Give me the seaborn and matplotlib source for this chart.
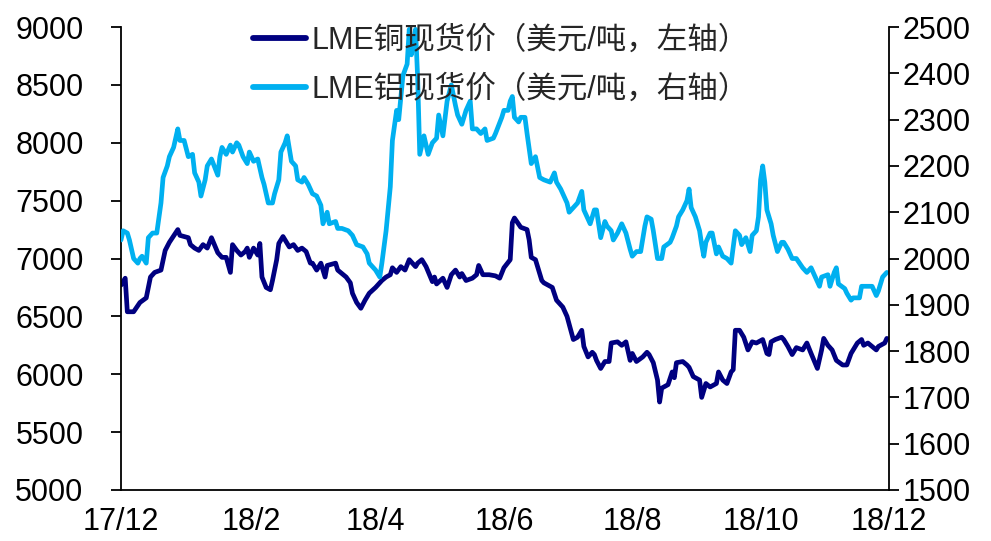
import matplotlib
matplotlib.use("Agg")
import matplotlib.pyplot as plt
import matplotlib.ticker as mticker
import pandas as pd
import seaborn as sns

# LME copper spot price, USD/t (left axis)
cu_dates = [
    "2017-12-01", "2017-12-03", "2017-12-04", "2017-12-07", "2017-12-10", "2017-12-13", "2017-12-15",
    "2017-12-17", "2017-12-20", "2017-12-22", "2017-12-24", "2017-12-28", "2017-12-29", "2018-01-02",
    "2018-01-03", "2018-01-05", "2018-01-07", "2018-01-09", "2018-01-11", "2018-01-13", "2018-01-16",
    "2018-01-18", "2018-01-20", "2018-01-22", "2018-01-23", "2018-01-25", "2018-01-27", "2018-01-29",
    "2018-01-30", "2018-01-31", "2018-02-02", "2018-02-04", "2018-02-05", "2018-02-06", "2018-02-08",
    "2018-02-10", "2018-02-11", "2018-02-13", "2018-02-14", "2018-02-16", "2018-02-18", "2018-02-19",
    "2018-02-21", "2018-02-23", "2018-02-25", "2018-02-27", "2018-03-01", "2018-03-02", "2018-03-04",
    "2018-03-06", "2018-03-08", "2018-03-09", "2018-03-13", "2018-03-14", "2018-03-16", "2018-03-18",
    "2018-03-20", "2018-03-21", "2018-03-23", "2018-03-25", "2018-03-27", "2018-03-29", "2018-04-01",
    "2018-04-03", "2018-04-04", "2018-04-06", "2018-04-08", "2018-04-09", "2018-04-11", "2018-04-13",
    "2018-04-15", "2018-04-17", "2018-04-20", "2018-04-21", "2018-04-23", "2018-04-25", "2018-04-28",
    "2018-04-29", "2018-04-30", "2018-05-03", "2018-05-05", "2018-05-07", "2018-05-09", "2018-05-11",
    "2018-05-12", "2018-05-14", "2018-05-17", "2018-05-19", "2018-05-20", "2018-05-22", "2018-05-25",
    "2018-05-28", "2018-05-30", "2018-06-01", "2018-06-04", "2018-06-05", "2018-06-06", "2018-06-09",
    "2018-06-12", "2018-06-13", "2018-06-14", "2018-06-16", "2018-06-19", "2018-06-20", "2018-06-24",
    "2018-06-26", "2018-06-29", "2018-07-01", "2018-07-04", "2018-07-06", "2018-07-08", "2018-07-09",
    "2018-07-11", "2018-07-13", "2018-07-14", "2018-07-15", "2018-07-17", "2018-07-19", "2018-07-21",
    "2018-07-22", "2018-07-25", "2018-07-27", "2018-07-29", "2018-07-31", "2018-08-01", "2018-08-03",
    "2018-08-06", "2018-08-08", "2018-08-09", "2018-08-11", "2018-08-13", "2018-08-14", "2018-08-15",
    "2018-08-18", "2018-08-20", "2018-08-21", "2018-08-22", "2018-08-25", "2018-08-27", "2018-08-28",
    "2018-08-30", "2018-09-02", "2018-09-03", "2018-09-05", "2018-09-07", "2018-09-10", "2018-09-11",
    "2018-09-13", "2018-09-15", "2018-09-17", "2018-09-18", "2018-09-19", "2018-09-21", "2018-09-23",
    "2018-09-25", "2018-09-27", "2018-09-29", "2018-10-02", "2018-10-04", "2018-10-05", "2018-10-06",
    "2018-10-08", "2018-10-11", "2018-10-12", "2018-10-14", "2018-10-16", "2018-10-18", "2018-10-21",
    "2018-10-23", "2018-10-25", "2018-10-28", "2018-10-30", "2018-10-31", "2018-11-02", "2018-11-04",
    "2018-11-06", "2018-11-09", "2018-11-11", "2018-11-13", "2018-11-16", "2018-11-18", "2018-11-19",
    "2018-11-21", "2018-11-23", "2018-11-25", "2018-11-26", "2018-11-29", "2018-11-30",
]
cu_prices = [
    6770, 6830, 6540, 6540, 6620, 6660, 6840,
    6880, 6900, 7070, 7140, 7250, 7200, 7180,
    7120, 7090, 7070, 7120, 7090, 7180, 7050,
    7010, 7010, 6880, 7120, 7070, 7030, 7060,
    7090, 7010, 7090, 7030, 7130, 6840, 6750,
    6730, 6810, 6990, 7130, 7190, 7130, 7100,
    7120, 7070, 7090, 7060, 6960, 6960, 6900,
    6960, 6840, 6940, 6960, 6900, 6870, 6840,
    6790, 6700, 6620, 6570, 6640, 6700, 6750,
    6790, 6810, 6840, 6860, 6920, 6880, 6930,
    6900, 6990, 6930, 6960, 6990, 6930, 6800,
    6840, 6780, 6830, 6750, 6860, 6900, 6840,
    6870, 6810, 6830, 6860, 6940, 6860, 6860,
    6850, 6830, 6920, 6990, 7310, 7350, 7270,
    7250, 7160, 7010, 6990, 6810, 6790, 6750,
    6640, 6580, 6500, 6300, 6320, 6380, 6240,
    6150, 6190, 6170, 6120, 6050, 6110, 6110,
    6270, 6280, 6250, 6280, 6120, 6180, 6110,
    6150, 6190, 6170, 6100, 5950, 5760, 5880,
    5910, 6020, 5970, 6100, 6110, 6080, 6060,
    5980, 5950, 5800, 5920, 5890, 5920, 6020,
    5950, 5920, 6020, 6040, 6380, 6380, 6320,
    6210, 6280, 6270, 6300, 6180, 6170, 6280,
    6300, 6320, 6300, 6240, 6170, 6230, 6210,
    6270, 6180, 6050, 6210, 6310, 6250, 6210,
    6120, 6080, 6080, 6180, 6270, 6300, 6250,
    6270, 6240, 6210, 6240, 6270, 6310,
]

# LME aluminium spot price, USD/t (right axis)
al_dates = [
    "2017-12-01", "2017-12-02", "2017-12-04", "2017-12-05", "2017-12-07", "2017-12-09", "2017-12-10",
    "2017-12-11", "2017-12-13", "2017-12-14", "2017-12-16", "2017-12-18", "2017-12-20", "2017-12-21",
    "2017-12-23", "2017-12-24", "2017-12-26", "2017-12-28", "2017-12-29", "2017-12-30", "2017-12-31",
    "2018-01-02", "2018-01-04", "2018-01-05", "2018-01-07", "2018-01-08", "2018-01-10", "2018-01-11",
    "2018-01-13", "2018-01-16", "2018-01-17", "2018-01-18", "2018-01-20", "2018-01-22", "2018-01-23",
    "2018-01-25", "2018-01-26", "2018-01-28", "2018-01-30", "2018-01-31", "2018-02-02", "2018-02-04",
    "2018-02-06", "2018-02-07", "2018-02-09", "2018-02-11", "2018-02-12", "2018-02-14", "2018-02-15",
    "2018-02-17", "2018-02-18", "2018-02-20", "2018-02-22", "2018-02-23", "2018-02-25", "2018-02-26",
    "2018-02-28", "2018-03-02", "2018-03-04", "2018-03-06", "2018-03-07", "2018-03-09", "2018-03-10",
    "2018-03-13", "2018-03-14", "2018-03-16", "2018-03-19", "2018-03-21", "2018-03-23", "2018-03-26",
    "2018-03-28", "2018-03-29", "2018-04-01", "2018-04-03", "2018-04-04", "2018-04-06", "2018-04-08",
    "2018-04-09", "2018-04-11", "2018-04-12", "2018-04-14", "2018-04-16", "2018-04-17", "2018-04-18",
    "2018-04-19", "2018-04-20", "2018-04-21", "2018-04-22", "2018-04-24", "2018-04-26", "2018-04-28",
    "2018-04-30", "2018-05-01", "2018-05-03", "2018-05-05", "2018-05-07", "2018-05-09", "2018-05-10",
    "2018-05-12", "2018-05-14", "2018-05-16", "2018-05-17", "2018-05-19", "2018-05-21", "2018-05-23",
    "2018-05-24", "2018-05-27", "2018-05-28", "2018-05-31", "2018-06-01", "2018-06-03", "2018-06-04",
    "2018-06-05", "2018-06-06", "2018-06-08", "2018-06-09", "2018-06-11", "2018-06-12", "2018-06-14",
    "2018-06-16", "2018-06-18", "2018-06-20", "2018-06-23", "2018-06-25", "2018-06-26", "2018-06-28",
    "2018-07-01", "2018-07-02", "2018-07-04", "2018-07-06", "2018-07-08", "2018-07-09", "2018-07-12",
    "2018-07-14", "2018-07-15", "2018-07-17", "2018-07-19", "2018-07-20", "2018-07-22", "2018-07-23",
    "2018-07-25", "2018-07-27", "2018-07-29", "2018-07-31", "2018-08-01", "2018-08-03", "2018-08-05",
    "2018-08-07", "2018-08-08", "2018-08-10", "2018-08-11", "2018-08-13", "2018-08-15", "2018-08-16",
    "2018-08-19", "2018-08-20", "2018-08-22", "2018-08-23", "2018-08-25", "2018-08-27", "2018-08-28",
    "2018-08-29", "2018-08-31", "2018-09-02", "2018-09-03", "2018-09-04", "2018-09-05", "2018-09-07",
    "2018-09-08", "2018-09-10", "2018-09-11", "2018-09-13", "2018-09-15", "2018-09-17", "2018-09-19",
    "2018-09-21", "2018-09-22", "2018-09-24", "2018-09-26", "2018-09-27", "2018-09-29", "2018-09-30",
    "2018-10-01", "2018-10-02", "2018-10-03", "2018-10-04", "2018-10-06", "2018-10-07", "2018-10-09",
    "2018-10-11", "2018-10-12", "2018-10-14", "2018-10-16", "2018-10-18", "2018-10-21", "2018-10-23",
    "2018-10-25", "2018-10-27", "2018-10-29", "2018-10-30", "2018-11-02", "2018-11-03", "2018-11-05",
    "2018-11-06", "2018-11-07", "2018-11-10", "2018-11-11", "2018-11-13", "2018-11-14", "2018-11-17",
    "2018-11-18", "2018-11-21", "2018-11-23", "2018-11-25", "2018-11-26", "2018-11-28", "2018-11-30",
]
al_prices = [
    2040, 2060, 2055, 2040, 2000, 1990, 2000,
    2005, 1990, 2045, 2055, 2055, 2120, 2175,
    2200, 2220, 2240, 2280, 2255, 2255, 2255,
    2220, 2225, 2185, 2165, 2135, 2170, 2200,
    2215, 2180, 2220, 2240, 2225, 2245, 2230,
    2250, 2245, 2220, 2205, 2230, 2210, 2215,
    2175, 2160, 2120, 2120, 2140, 2170, 2230,
    2250, 2265, 2210, 2200, 2170, 2165, 2175,
    2160, 2140, 2135, 2115, 2075, 2100, 2075,
    2080, 2065, 2065, 2060, 2050, 2030, 2025,
    2010, 1990, 1975, 1960, 1990, 2060, 2155,
    2255, 2320, 2300, 2395, 2420, 2495, 2440,
    2470, 2495, 2390, 2225, 2265, 2225, 2250,
    2260, 2310, 2265, 2340, 2375, 2330, 2310,
    2290, 2320, 2340, 2280, 2280, 2270, 2280,
    2255, 2260, 2270, 2305, 2320, 2320, 2340,
    2350, 2305, 2295, 2305, 2305, 2270, 2205,
    2220, 2175, 2170, 2165, 2185, 2165, 2150,
    2120, 2100, 2110, 2120, 2145, 2105, 2075,
    2105, 2105, 2045, 2080, 2070, 2060, 2040,
    2055, 2075, 2055, 2020, 2005, 2015, 2015,
    2070, 2090, 2085, 2060, 2000, 2000, 2025,
    2035, 2045, 2070, 2090, 2105, 2125, 2150,
    2110, 2090, 2060, 2030, 2005, 2035, 2055,
    2055, 2010, 2025, 2005, 2000, 1990, 2060,
    2050, 2030, 2045, 2015, 2050, 2060, 2090,
    2170, 2200, 2165, 2105, 2075, 2050, 2015,
    2035, 2035, 2020, 2000, 2000, 1980, 1970,
    1980, 1960, 1940, 1960, 1965, 1940, 1970,
    1980, 1945, 1935, 1925, 1910, 1915, 1915,
    1940, 1940, 1940, 1920, 1930, 1960, 1970,
]

tick_dates = ["2017-12-01", "2018-02-01", "2018-04-01", "2018-06-01",
              "2018-08-01", "2018-10-01", "2018-12-01"]
tick_labels = ["17/12", "18/2", "18/4", "18/6", "18/8", "18/10", "18/12"]

cu_label = "LME铜现货价（美元/吨，左轴）"
al_label = "LME铝现货价（美元/吨，右轴）"

cu_color = "#000080"
al_color = "#00B0F0"

cu = pd.DataFrame({"date": pd.to_datetime(cu_dates), "price": cu_prices})
al = pd.DataFrame({"date": pd.to_datetime(al_dates), "price": al_prices})

sns.set_style("white")
plt.rcParams["font.family"] = ["Liberation Sans", "Noto Sans CJK SC", "DejaVu Sans"]

fig = plt.figure(figsize=(9.91, 5.41), dpi=100)
ax = fig.add_axes([0.1221, 0.0943, 0.7749, 0.8557])
ax2 = ax.twinx()

sns.lineplot(data=cu, x="date", y="price", ax=ax, color=cu_color,
             linewidth=3.4, estimator=None, label=cu_label, legend=False)
sns.lineplot(data=al, x="date", y="price", ax=ax2, color=al_color,
             linewidth=3.4, estimator=None, label=al_label, legend=False)

ax.set_xlim(pd.Timestamp("2017-12-01"), pd.Timestamp("2018-12-01"))
ax.set_ylim(5000, 9000)
ax2.set_ylim(1500, 2500)
ax.yaxis.set_major_locator(mticker.MultipleLocator(500))
ax2.yaxis.set_major_locator(mticker.MultipleLocator(100))
ax.set_xticks(pd.to_datetime(tick_dates))
ax.set_xticklabels(tick_labels)

tick_size = 22
for a in (ax, ax2):
    a.set_xlabel("")
    a.set_ylabel("")
    a.spines["top"].set_visible(False)
    for s in ("left", "right", "bottom"):
        a.spines[s].set_color("black")
        a.spines[s].set_linewidth(1.3)
    a.tick_params(direction="out", length=7, width=1.3, color="black",
                  labelsize=tick_size, labelcolor="black")
ax.tick_params(axis="x", pad=5)
ax.tick_params(axis="y", pad=20)
ax2.tick_params(axis="y", pad=3)
ax.spines["right"].set_visible(False)
ax2.spines["left"].set_visible(False)
ax2.spines["bottom"].set_visible(False)

handles = ax.get_lines()[:1] + ax2.get_lines()[:1]
leg = ax2.legend(handles, [cu_label, al_label], loc="upper left",
                 bbox_to_anchor=(0.136, 1.062), frameon=False,
                 fontsize=tick_size, handlelength=1.75, handletextpad=0.18,
                 labelspacing=0.62)
for line in leg.get_lines():
    line.set_linewidth(4.2)

fig.savefig("out.png", dpi=100)
